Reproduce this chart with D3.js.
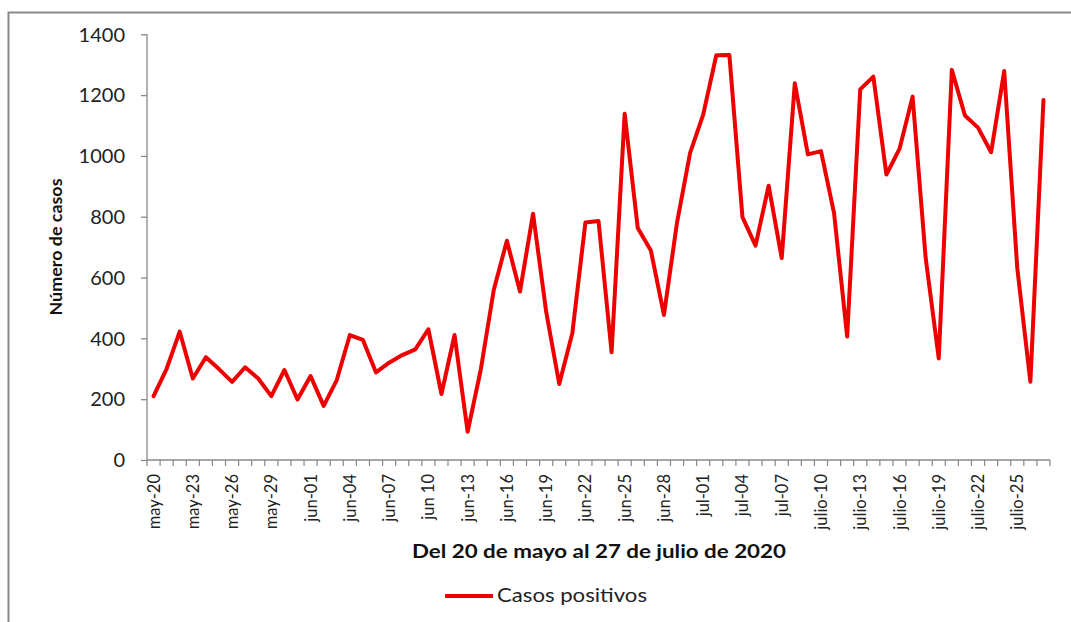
<!DOCTYPE html>
<html>
<head>
<meta charset="utf-8">
<script src="https://cdn.jsdelivr.net/npm/d3@7"></script>
<style>
  html, body { margin: 0; padding: 0; background: #fff; }
  svg { display: block; }
</style>
</head>
<body>
<svg id="chart" width="1071" height="622"></svg>
<script>
const categories = [
  "may-20","may-21","may-22","may-23","may-24","may-25","may-26","may-27","may-28","may-29","may-30","may-31",
  "jun-01","jun-02","jun-03","jun-04","jun-05","jun-06","jun-07","jun-08","jun-09","jun-10","jun-11","jun-12",
  "jun-13","jun-14","jun-15","jun-16","jun-17","jun-18","jun-19","jun-20","jun-21","jun-22","jun-23","jun-24",
  "jun-25","jun-26","jun-27","jun-28","jun-29","jun-30",
  "jul-01","jul-02","jul-03","jul-04","jul-05","jul-06","jul-07","jul-08","jul-09","jul-10","jul-11","jul-12",
  "jul-13","jul-14","jul-15","jul-16","jul-17","jul-18","jul-19","jul-20","jul-21","jul-22","jul-23","jul-24",
  "jul-25","jul-26","jul-27"
];
const casosPositivos = [
  210, 300, 422, 268, 338, 299, 257, 305, 268, 210, 296, 199,
  276, 178, 263, 411, 395, 288, 320, 345, 364, 430, 217, 411,
  93, 296, 560, 721, 554, 810, 488, 250, 417, 781, 786, 354,
  1139, 763, 689, 477,
  781, 1010, 1136, 1331, 1332, 799, 705, 902, 664, 1239, 1005, 1016,
  812, 406, 1219, 1261, 939, 1023, 1195, 664, 334, 1283, 1133, 1093,
  1012, 1279, 631, 257, 1184
];
const tickCategories = ["may-20","may-23","may-26","may-29","jun-01","jun-04","jun-07","jun-10","jun-13","jun-16","jun-19","jun-22","jun-25","jun-28","jul-01","jul-04","jul-07","jul-10","jul-13","jul-16","jul-19","jul-22","jul-25"];
const tickLabels = ["may-20","may-23","may-26","may-29","jun-01","jun-04","jun-07","jun 10","jun-13","jun-16","jun-19","jun-22","jun-25","jun-28","jul-01","jul-04","jul-07","julio-10","julio-13","julio-16","julio-19","julio-22","julio-25"];
const yTicks = [0, 200, 400, 600, 800, 1000, 1200, 1400];
const seriesName = "Casos positivos";
const xTitle = "Del 20 de mayo al 27 de julio de 2020";
const yTitle = "Número de casos";

const svg = d3.select("#chart");
const font = "Lato, 'Open Sans', sans-serif";
const axisColor = "#888888";

// frame
svg.append("rect").attr("x", 8.5).attr("y", 12.5).attr("width", 1100).attr("height", 700)
  .attr("fill", "none").attr("stroke", "#8a8a8a").attr("stroke-width", 2);

const x = d3.scaleBand().domain(categories).range([147, 1050]).paddingInner(0).paddingOuter(0);
const y = d3.scaleLinear().domain([0, 1400]).range([460, 34.3]);
const cx = d => x(d) + x.bandwidth() / 2;

// Y axis
const yAxis = d3.axisLeft(y).tickValues(yTicks).tickSize(6).tickPadding(16).tickFormat(d3.format("d"));
const gy = svg.append("g").attr("transform", "translate(147,0)").call(yAxis);
gy.select(".domain").attr("stroke", axisColor).attr("stroke-width", 1.3).attr("d", `M-0,${y(1400)}V${y(0)}`);
gy.selectAll(".tick line").attr("stroke", axisColor).attr("stroke-width", 1.3);
gy.selectAll(".tick text").attr("font-family", font).attr("font-size", 20).attr("fill", "#222").attr("dy", "0.34em");

// X axis line and boundary ticks
const gx = svg.append("g");
gx.append("line").attr("x1", 147).attr("x2", 1050).attr("y1", y(0)).attr("y2", y(0))
  .attr("stroke", axisColor).attr("stroke-width", 1.3);
const boundaries = categories.map(c => x(c)).concat([x(categories[categories.length - 1]) + x.bandwidth()]);
gx.selectAll("line.tk").data(boundaries).enter().append("line").attr("class", "tk")
  .attr("x1", d => d).attr("x2", d => d).attr("y1", y(0)).attr("y2", y(0) + 6)
  .attr("stroke", axisColor).attr("stroke-width", 1.2);
gx.selectAll("text.tl").data(tickCategories).enter().append("text").attr("class", "tl")
  .attr("transform", d => `translate(${cx(d) + 6},${y(0) + 14}) rotate(-90)`)
  .attr("text-anchor", "end")
  .attr("font-family", font).attr("font-size", 16.5).attr("fill", "#222")
  .text((d, i) => tickLabels[i]);

// line
const line = d3.line().x((d, i) => cx(categories[i])).y(d => y(d));
svg.append("path").datum(casosPositivos).attr("d", line)
  .attr("fill", "none").attr("stroke", "#ee0000").attr("stroke-width", 4)
  .attr("stroke-linejoin", "round").attr("stroke-linecap", "round");

// titles
svg.append("text").attr("x", 599).attr("y", 558).attr("text-anchor", "middle")
  .attr("font-family", font).attr("font-weight", "bold").attr("font-size", 19).attr("fill", "#111")
  .attr("textLength", 374).attr("lengthAdjust", "spacingAndGlyphs").text(xTitle);
svg.append("text").attr("transform", "translate(62,247) rotate(-90)").attr("text-anchor", "middle")
  .attr("font-family", font).attr("font-weight", "bold").attr("font-size", 17).attr("fill", "#111")
  .attr("textLength", 137).attr("lengthAdjust", "spacingAndGlyphs").text(yTitle);

// legend
const lg = svg.append("g");
lg.append("line").attr("x1", 445).attr("x2", 493).attr("y1", 596).attr("y2", 596)
  .attr("stroke", "#ee0000").attr("stroke-width", 4);
lg.append("text").attr("x", 497).attr("y", 602).attr("font-family", font).attr("font-size", 19)
  .attr("fill", "#222").attr("textLength", 150).attr("lengthAdjust", "spacingAndGlyphs").text(seriesName);
</script>
</body>
</html>
